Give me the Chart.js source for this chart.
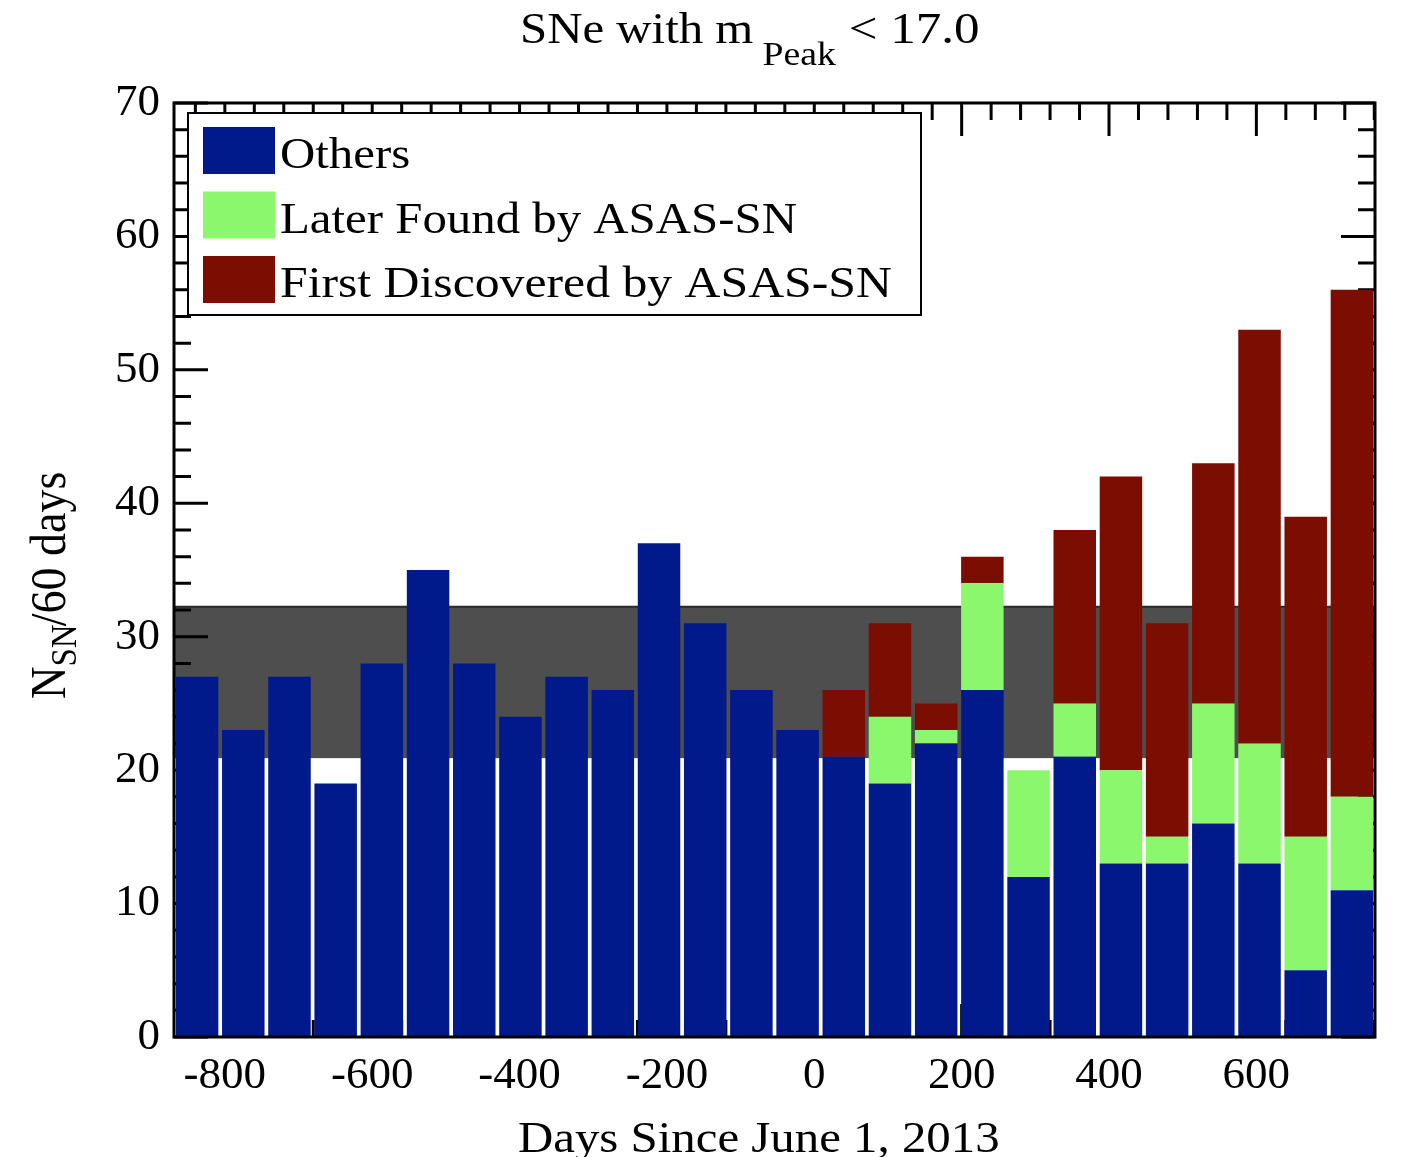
<!DOCTYPE html>
<html>
<head>
    <title>SNe with m_Peak &lt; 17.0</title>
    <script src="https://cdn.jsdelivr.net/npm/chart.js@4.4.2/dist/chart.umd.min.js"></script>
    <style>
        html, body {
            margin: 0;
            padding: 0;
            background: #fff;
        }
        #wrap {
            width: 1407px;
            height: 1157px;
        }
    </style>
</head>
<body>
<div id="wrap"><canvas id="snChart" width="1407" height="1157"></canvas></div>
<script>
    // 60-day bins, centre in days since June 1, 2013
    const binCenters = [-836, -773, -711, -648, -585, -523, -460, -398, -335, -272, -210, -147, -84,
        -22, 41, 104, 166, 229, 291, 354, 417, 479, 542, 604, 667, 730];

    // counts per bin, stacked bottom to top
    const others = [27, 23, 27, 19, 28, 35, 28, 24, 27, 26, 37, 31, 26, 23, 21, 19, 22, 26, 12, 21, 13, 13, 16, 13, 5, 11];
    const laterFound = [0, 0, 0, 0, 0, 0, 0, 0, 0, 0, 0, 0, 0, 0, 0, 5, 1, 8, 8, 4, 7, 2, 9, 9, 10, 7];
    const firstDiscovered = [0, 0, 0, 0, 0, 0, 0, 0, 0, 0, 0, 0, 0, 0, 5, 7, 2, 2, 0, 13, 22, 16, 18, 31, 24, 38];

    // grey band (pre-ASAS-SN rate range)
    const bandLow = 20.9;
    const bandHigh = 32.25;

    const dayTicks = [-800, -600, -400, -200, 0, 200, 400, 600];
    const countTicks = [0, 10, 20, 30, 40, 50, 60, 70];
    const dayMin = -869;
    const dayMax = 761;

    const SERIF = '"Liberation Serif", "Times New Roman", serif';
    const SX = 1.11; // the original figure is a bit stretched sideways

    function stretchedText(ctx, text, x, y, size, sx) {
        ctx.save();
        ctx.font = size + 'px ' + SERIF;
        ctx.translate(x, y);
        ctx.scale(sx || SX, 1);
        ctx.fillText(text, 0, 0);
        const w = ctx.measureText(text).width * (sx || SX);
        ctx.restore();
        return w;
    }

    // band + inward tick marks, under the bars
    const bandAndTicks = {
        id: 'bandAndTicks',
        beforeDatasetsDraw(chart) {
            const {ctx, chartArea: a, scales} = chart;
            const y = scales.y;
            const d = scales.x2;
            ctx.save();
            const yTop = y.getPixelForValue(bandHigh);
            const yBot = y.getPixelForValue(bandLow);
            ctx.fillStyle = '#4e4e4e';
            ctx.fillRect(a.left, yTop, a.right - a.left, yBot - yTop);
            ctx.strokeStyle = '#2a2a2a';
            ctx.lineWidth = 2;
            ctx.beginPath();
            ctx.moveTo(a.left, yTop);
            ctx.lineTo(a.right, yTop);
            ctx.stroke();

            ctx.strokeStyle = '#000';
            ctx.lineWidth = 3;
            ctx.beginPath();
            for (let v = 0; v <= 70; v += 2) {
                const len = v % 10 === 0 ? 34 : 17;
                const py = y.getPixelForValue(v);
                ctx.moveTo(a.left, py);
                ctx.lineTo(a.left + len, py);
                ctx.moveTo(a.right, py);
                ctx.lineTo(a.right - len, py);
            }
            for (let v = -840; v <= dayMax; v += 40) {
                const len = v % 200 === 0 ? 33 : 17;
                const px = d.getPixelForValue(v);
                ctx.moveTo(px, a.top);
                ctx.lineTo(px, a.top + len);
                ctx.moveTo(px, a.bottom);
                ctx.lineTo(px, a.bottom - len);
            }
            ctx.stroke();
            ctx.restore();
        },
        afterDatasetsDraw(chart) {
            const {ctx, chartArea: a} = chart;
            ctx.save();
            ctx.strokeStyle = '#000';
            ctx.lineWidth = 3;
            ctx.strokeRect(a.left, a.top, a.right - a.left, a.bottom - a.top);
            ctx.restore();
        }
    };

    // legend box, title and axis titles
    const decorations = {
        id: 'decorations',
        afterDraw(chart) {
            const ctx = chart.ctx;
            ctx.save();
            ctx.fillStyle = '#000';
            ctx.textBaseline = 'alphabetic';

            // title: SNe with m_Peak < 17.0
            let x = 520;
            x += stretchedText(ctx, 'SNe with m ', x, 43, 44);
            x += stretchedText(ctx, 'Peak', x - 3, 65, 34) - 3;
            stretchedText(ctx, ' < 17.0', x, 43, 44, 1.16);

            // x axis title
            stretchedText(ctx, 'Days Since June 1, 2013', 518, 1152, 44);

            // y axis title: N_SN/60 days
            ctx.save();
            ctx.translate(65, 699);
            ctx.rotate(-Math.PI / 2);
            ctx.scale(1, SX);
            ctx.font = '45px ' + SERIF;
            ctx.fillText('N', 0, 0);
            let t = ctx.measureText('N').width;
            ctx.font = '33px ' + SERIF;
            ctx.fillText('SN', t, 10);
            t += ctx.measureText('SN').width;
            ctx.font = '46px ' + SERIF;
            ctx.fillText('/60 days', t - 2, 0);
            ctx.restore();

            // legend
            const box = {x: 188, y: 113, w: 733, h: 202};
            ctx.fillStyle = '#fff';
            ctx.fillRect(box.x, box.y, box.w, box.h);
            ctx.strokeStyle = '#000';
            ctx.lineWidth = 2;
            ctx.strokeRect(box.x, box.y, box.w, box.h);
            chart.data.datasets.forEach((ds, i) => {
                const top = 127 + i * 64.5;
                ctx.fillStyle = ds.backgroundColor;
                ctx.fillRect(203, top, 72, 47);
                ctx.fillStyle = '#000';
                stretchedText(ctx, ds.label, 280, top + 41, 44, i === 2 ? 1.13 : SX);
            });
            ctx.restore();
        }
    };

    new Chart(document.getElementById('snChart').getContext('2d'), {
        type: 'bar',
        data: {
            labels: binCenters.map(String),
            datasets: [
                {label: 'Others', data: others, backgroundColor: '#001a8c'},
                {label: 'Later Found by ASAS-SN', data: laterFound, backgroundColor: '#8af76c'},
                {label: 'First Discovered by ASAS-SN', data: firstDiscovered, backgroundColor: '#7c0d02'}
            ]
        },
        options: {
            responsive: false,
            animation: false,
            devicePixelRatio: 1,
            layout: {padding: {top: 103, right: 32, left: 0, bottom: 0}},
            datasets: {
                bar: {
                    categoryPercentage: 1.0,
                    barPercentage: 0.92,
                    borderWidth: 0
                }
            },
            scales: {
                x: {
                    type: 'category',
                    stacked: true,
                    display: false
                },
                x2: {
                    type: 'linear',
                    position: 'bottom',
                    offset: false,
                    bounds: 'data',
                    min: dayMin,
                    max: dayMax,
                    afterBuildTicks: axis => {
                        axis.ticks = dayTicks.map(v => ({value: v}));
                    },
                    afterFit: axis => {
                        axis.height = 120;
                    },
                    grid: {display: false, drawTicks: false, offset: false},
                    border: {display: false},
                    ticks: {
                        padding: 12,
                        color: '#000',
                        maxRotation: 0,
                        autoSkip: false,
                        font: {family: SERIF, size: 45}
                    }
                },
                y: {
                    stacked: true,
                    min: 0,
                    max: 70,
                    afterBuildTicks: axis => {
                        axis.ticks = countTicks.map(v => ({value: v}));
                    },
                    afterFit: axis => {
                        axis.width = 174;
                    },
                    grid: {display: false, drawTicks: false},
                    border: {display: false},
                    ticks: {
                        padding: 14,
                        color: '#000',
                        font: {family: SERIF, size: 45}
                    }
                }
            },
            plugins: {
                legend: {display: false},
                title: {display: false},
                tooltip: {enabled: false}
            }
        },
        plugins: [bandAndTicks, decorations]
    });
</script>
</body>
</html>
